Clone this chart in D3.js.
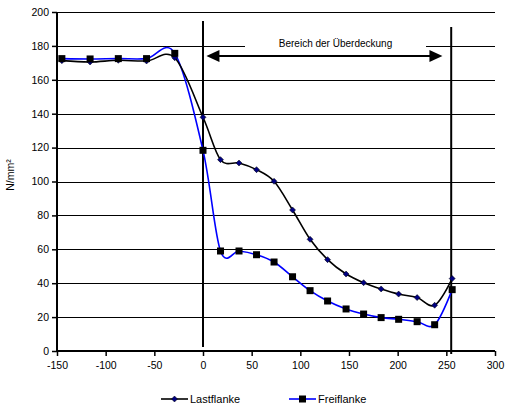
<!DOCTYPE html>
<html>
<head>
<meta charset="utf-8">
<script src="https://cdn.jsdelivr.net/npm/d3@7"></script>
<style>
  html, body { margin: 0; padding: 0; background: #fff; }
  svg { display: block; font-family: "Liberation Sans", Arial, sans-serif; }
</style>
</head>
<body>
<svg id="chart" width="505" height="412"></svg>
<script>
// ---- data ----
const positions = [-145, -116, -87, -58, -29, 0, 18, 37, 55, 73, 92, 110, 128, 147, 165, 183, 201, 220, 238, 256];
const lastflanke = [171.3, 170.5, 171.5, 171.1, 173, 137.9, 112.9, 110.9, 107, 100.1, 83.2, 65.9, 53.9, 45.4, 40.3, 36.6, 33.6, 31.5, 27, 42.7];
const freiflanke = [172.5, 172.3, 172.5, 172.5, 175.6, 118.4, 59, 59, 56.8, 52.5, 43.8, 35.6, 29.5, 24.8, 21.8, 19.7, 18.7, 17.3, 15.5, 36.2];
const xTicks = [-150, -100, -50, 0, 50, 100, 150, 200, 250, 300];
const yTicks = [0, 20, 40, 60, 80, 100, 120, 140, 160, 180, 200];
const seriesNames = ["Lastflanke", "Freiflanke"];
const yTitle = "N/mm²";
const regionLabel = "Bereich der Überdeckung";
const regionBounds = [0, 255];     // vertical lines
const arrowSpan = [3.5, 246];      // arrow ends (x values)
const arrowLevel = 174;            // arrow y value

// ---- layout ----
const svg = d3.select("#chart");
const x = d3.scaleLinear().domain([-150, 300]).range([57, 495]);
const y = d3.scaleLinear().domain([0, 200]).range([351, 12]);

// gridlines
svg.append("g").selectAll("line").data(yTicks.filter(d => d > 0)).join("line")
  .attr("x1", x(-150)).attr("x2", x(300))
  .attr("y1", d => Math.round(y(d)) + 0.5).attr("y2", d => Math.round(y(d)) + 0.5)
  .attr("stroke", "#000").attr("stroke-width", 1);

// white box behind label
svg.append("rect").attr("x", 245).attr("y", 36).attr("width", 181).attr("height", 14).attr("fill", "#fff");
svg.append("text").attr("x", 335.5).attr("y", 47).attr("text-anchor", "middle")
  .attr("font-size", 10).attr("fill", "#000").text(regionLabel);

// axes
const fmt = d => String(d);
const yAxis = d3.axisLeft(y).tickValues(yTicks).tickFormat(fmt).tickSize(5).tickPadding(3);
const gy = svg.append("g").attr("transform", `translate(${x(-150)},0)`).call(yAxis);
const xAxis = d3.axisBottom(x).tickValues(xTicks).tickFormat(fmt).tickSize(5).tickPadding(6);
const gx = svg.append("g").attr("transform", `translate(0,${y(0)})`).call(xAxis);
[gx, gy].forEach(g => {
  g.select(".domain").attr("stroke", "#000").attr("stroke-width", 2);
  g.selectAll(".tick line").attr("stroke", "#000").attr("stroke-width", 1.5);
  g.selectAll(".tick text").attr("font-size", 10.5).attr("fill", "#000")
    .attr("font-family", "'Liberation Sans', Arial, sans-serif");
});
gx.select(".domain").attr("d", `M${x(-150)},0H${x(300)}`);
gy.select(".domain").attr("d", `M0,${y(0)}V${y(200)}`);

// y title
svg.append("text").attr("transform", `translate(14,175) rotate(-90)`)
  .attr("text-anchor", "middle").attr("font-size", 10.5).attr("fill", "#000").text(yTitle);

// vertical region lines
svg.append("line").attr("x1", x(regionBounds[0])).attr("x2", x(regionBounds[0]))
  .attr("y1", 21).attr("y2", 347).attr("stroke", "#000").attr("stroke-width", 2);
svg.append("line").attr("x1", x(regionBounds[1])).attr("x2", x(regionBounds[1]))
  .attr("y1", 27).attr("y2", 354).attr("stroke", "#000").attr("stroke-width", 2);

// arrow
const ay = y(arrowLevel);
const ax1 = x(arrowSpan[0]), ax2 = x(arrowSpan[1]);
svg.append("line").attr("x1", ax1 + 10).attr("x2", ax2 - 10).attr("y1", ay).attr("y2", ay)
  .attr("stroke", "#000").attr("stroke-width", 2);
svg.append("path").attr("d", `M${ax1},${ay}L${ax1 + 13},${ay - 6}L${ax1 + 13},${ay + 6}Z`).attr("fill", "#000");
svg.append("path").attr("d", `M${ax2},${ay}L${ax2 - 13},${ay - 6}L${ax2 - 13},${ay + 6}Z`).attr("fill", "#000");

// series
const curve = d3.curveCardinal.tension(0);
const line = d3.line().x(d => x(d[0])).y(d => y(d[1])).curve(curve);
const lastPts = positions.map((p, i) => [p, lastflanke[i]]);
const freiPts = positions.map((p, i) => [p, freiflanke[i]]);

svg.append("path").datum(freiPts).attr("d", line).attr("fill", "none")
  .attr("stroke", "#0000ff").attr("stroke-width", 1.6);
svg.append("path").datum(lastPts).attr("d", line).attr("fill", "none")
  .attr("stroke", "#000").attr("stroke-width", 1.6);

const diamond = s => `M0,${-s}L${s},0L0,${s}L${-s},0Z`;
svg.append("g").selectAll("path").data(lastPts).join("path")
  .attr("transform", d => `translate(${x(d[0])},${y(d[1])})`)
  .attr("d", diamond(3)).attr("fill", "#000080").attr("stroke", "#000").attr("stroke-width", 0.5);
svg.append("g").selectAll("rect").data(freiPts).join("rect")
  .attr("x", d => x(d[0]) - 3.5).attr("y", d => y(d[1]) - 3.5)
  .attr("width", 7).attr("height", 7).attr("fill", "#000");

// legend
const lg = svg.append("g");
const legendItems = [
  {name: seriesNames[0], x0: 161, color: "#000", marker: "diamond"},
  {name: seriesNames[1], x0: 289, color: "#0000ff", marker: "square"}
];
legendItems.forEach(it => {
  const ly = 399;
  lg.append("line").attr("x1", it.x0).attr("x2", it.x0 + 27).attr("y1", ly).attr("y2", ly)
    .attr("stroke", it.color).attr("stroke-width", 1.6);
  if (it.marker === "diamond") {
    lg.append("path").attr("transform", `translate(${it.x0 + 13.5},${ly})`).attr("d", diamond(3))
      .attr("fill", "#000080").attr("stroke", "#000").attr("stroke-width", 0.5);
  } else {
    lg.append("rect").attr("x", it.x0 + 13.5 - 3.5).attr("y", ly - 3.5).attr("width", 7).attr("height", 7).attr("fill", "#000");
  }
  lg.append("text").attr("x", it.x0 + 29).attr("y", ly + 4).attr("font-size", 11).attr("fill", "#000").text(it.name);
});
</script>
</body>
</html>
